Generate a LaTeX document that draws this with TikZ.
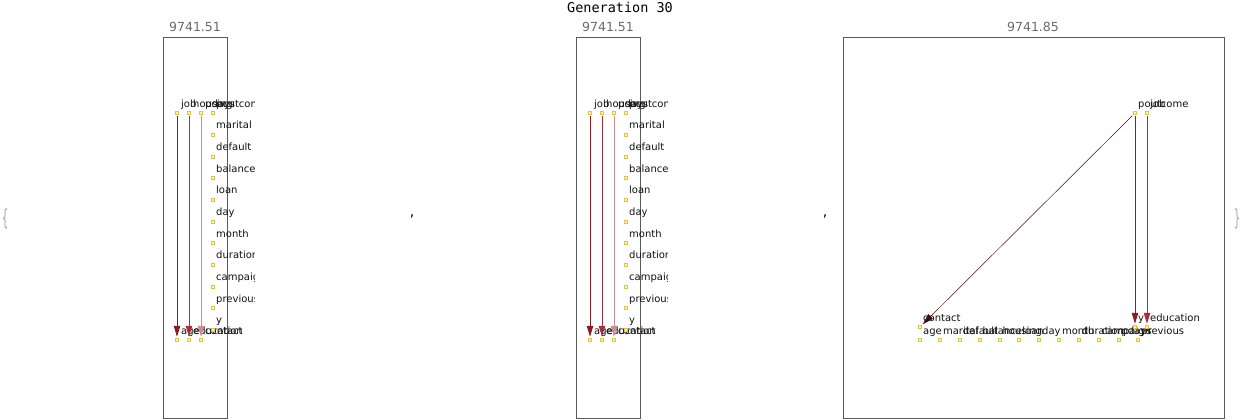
\documentclass[tikz,border=0pt]{standalone}
\usepackage{fontspec}
\setmainfont{DejaVu Sans}
\setmonofont{DejaVu Sans Mono}
\usetikzlibrary{arrows.meta}
\definecolor{genink}{HTML}{111111}
\definecolor{genmute}{HTML}{6A6A6A}
\definecolor{genframe}{HTML}{5A5A5A}
\definecolor{vtxline}{HTML}{E3C53C}
\definecolor{vtxfill}{HTML}{FFF4B0}
\definecolor{edgeA}{HTML}{8E1A26}
\definecolor{edgeB}{HTML}{A2303E}
\definecolor{edgeC}{HTML}{D08A92}
\definecolor{edgeD}{HTML}{3A1012}
\tikzset{
  vtx/.style={draw=vtxline, fill=vtxfill, line width=0.5pt, minimum size=3pt, inner sep=0pt},
  lab/.style={font=\fontsize{10}{10}\selectfont, text=genink, anchor=base west, inner sep=0pt},
  edg/.style={-{Triangle[length=11pt, width=6.5pt]}, line width=0.9pt, shorten >=1.5pt, shorten <=1.5pt},
  frm/.style={draw=genframe, line width=0.6pt},
  ttl/.style={font=\fontsize{12.5}{12.5}\selectfont, text=genmute},
  brc/.style={font=\fontsize{20}{20}\selectfont, text=genmute!55, inner sep=0pt, xscale=0.55, yscale=1.1},
}
\begin{document}
\begin{tikzpicture}[x=1pt, y=-1pt]
  \useasboundingbox (0,0) rectangle (1242,420);
  \node[font=\ttfamily\fontsize{13.5}{13.5}\selectfont] (gen) at (620,7) {Generation 30};
  \node[brc] (lbr) at (5,219) {\{};
  \node[brc] (rbr) at (1237,219) {\}};
  \node[font=\fontsize{14}{14}\selectfont] (cm1) at (412,216) {,};
  \node[font=\fontsize{14}{14}\selectfont] (cm2) at (825,216) {,};

  % two narrow panels, same graph
  \foreach \px/\p in {0/a, 413/b} {
    \begin{scope}[xshift=\px pt]
      \node[ttl] (\p-score) at (195,27) {9741.51};
      \draw[frm] (163,37) rectangle (227,418);
      \begin{scope}
        \clip (136,30) rectangle (254,418);
        \foreach \t/\x in {job/177, housing/189, pdays/201} {
          \node[vtx] (\p-\t) at (\x,113) {};
          \node[lab] (\p-\t-t) at (\x+4,107) {\t};
        }
        \foreach \t/\x in {age/177, education/189, contact/201} {
          \node[vtx] (\p-\t) at (\x,340) {};
          \node[lab] (\p-\t-t) at (\x+4,334) {\t};
        }
        \foreach \t [count=\i from 0] in {poutcome, marital, default, balance, loan, day, month, duration, campaign, previous, y} {
          \node[vtx] (\p-\t) at (213,113+21.67*\i) {};
          \node[lab] (\p-\t-t) at (216,107+21.67*\i) {\t};
        }
        \draw[edg, edgeA] (\p-job) -- (\p-age);
        \draw[edg, edgeB] (\p-housing) -- (\p-education);
        \draw[edg, edgeC] (\p-pdays) -- (\p-contact);
      \end{scope}
    \end{scope}
  }

  % wide panel
  \node[ttl] (c-score) at (1033,27) {9741.85};
  \draw[frm] (843,37) rectangle (1224,418);
  \foreach \t [count=\i from 0] in {age, marital, default, balance, housing, loan, day, month, duration, campaign, pdays, previous} {
    \node[vtx] (c-\t) at (920+19.83*\i,340) {};
    \node[lab] (c-\t-t) at (923+19.83*\i,334) {\t};
  }
  \foreach \t/\x/\y in {contact/920/327, y/1135/327, education/1147/327, poutcome/1135/113, job/1147/113} {
    \node[vtx] (c-\t) at (\x,\y) {};
    \node[lab] (c-\t-t) at (\x+3,\y-6) {\t};
  }
  \draw[edg, edgeD, line width=0.5pt] (c-poutcome) -- (c-contact);
  \draw[edg, edgeA] (c-poutcome) -- (c-y);
  \draw[edg, edgeB] (c-job) -- (c-education);
\end{tikzpicture}
\end{document}
